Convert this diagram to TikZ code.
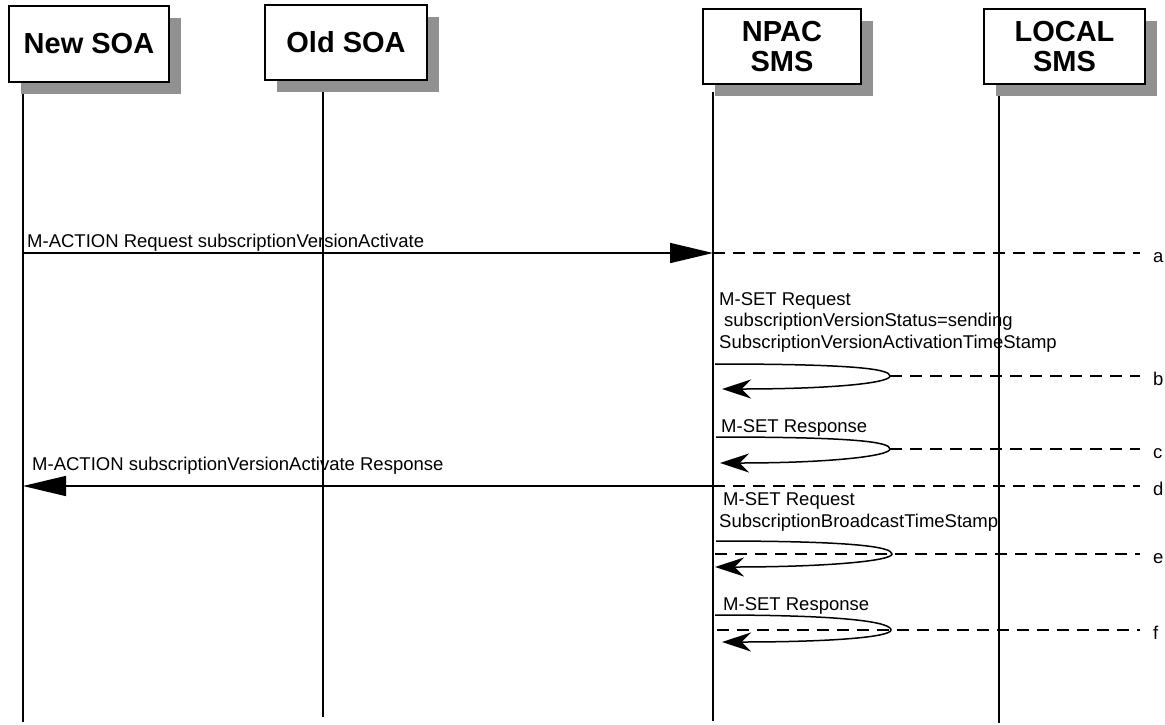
\documentclass[tikz,border=0pt]{standalone}
\usepackage{fontspec}
\setmainfont{Liberation Sans}
\usetikzlibrary{arrows.meta,shadows}
\definecolor{shadowgray}{RGB}{145,145,145}

\begin{document}
\begin{tikzpicture}[
    x=1pt, y=-1pt,
    actor/.style={draw, fill=white, line width=1.4pt, align=center,
                  inner sep=0pt, minimum height=75pt,
                  font=\bfseries\fontsize{29}{30}\selectfont,
                  general shadow={fill=shadowgray, shadow xshift=12pt, shadow yshift=-12pt}},
    life/.style={line width=1.4pt},
    msg/.style={line width=1.6pt, -{Triangle[length=43pt, width=20pt]}},
    self/.style={line width=1.5pt, -{Stealth[length=29pt, width=19pt]}},
    guide/.style={line width=1.2pt, dash pattern=on 12pt off 8pt},
    txt/.style={font=\fontsize{18.5}{21.5}\selectfont, inner sep=0pt,
                anchor=base west, align=left},
    tag/.style={txt}
  ]
  \useasboundingbox (0,0) rectangle (1165,724);

  % lifelines
  \foreach \a/\x/\t/\b in {newsoa/23/90/722, oldsoa/323/88/717, npac/713/92/721, local/999/92/723} {
    \coordinate (\a-top) at (\x,\t);
    \coordinate (\a-bot) at (\x,\b);
    \draw[life] (\a-top) -- (\a-bot);
  }

  % header row
  \node[actor, minimum width=160pt, minimum height=76pt] (newsoa) at (89,44) {New SOA};
  \node[actor, minimum width=162pt] (oldsoa) at (346,42.5) {Old SOA};
  \node[actor, minimum width=158pt] (npac) at (782,46.5) {NPAC\\SMS};
  \node[actor, minimum width=161pt] (local) at (1064.5,46.5) {LOCAL\\SMS};

  % dashed guides with their letters
  \foreach \n/\xs/\y in {a/713/253, b/890/376, c/890/449, d/713/486, e/715/554, f/717/630} {
    \coordinate (\n-gs) at (\xs,\y);
    \coordinate (\n-ge) at (1140,\y);
    \draw[guide] (\n-gs) -- (\n-ge);
    \node[tag] (\n-tag) at (1153,\y+9) {\n};
  }

  % a: activate request
  \coordinate (a-from) at (23,253);
  \coordinate (a-to) at (713,253);
  \draw[msg] (a-from) -- (a-to);
  \node[txt] (a-lbl) at (27,247) {M-ACTION Request subscriptionVersionActivate};

  % b: status set (base = last line)
  \node[txt] (b-lbl) at (719,348) {M-SET Request\\\hspace*{5pt}subscriptionVersionStatus=sending\\SubscriptionVersionActivationTimeStamp};
  \coordinate (b-start) at (715,364);
  \coordinate (b-tip) at (890,376);
  \coordinate (b-end) at (722,389);
  \draw[self] (b-start) .. controls +(140,0) and +(0,-7) .. (b-tip)
              .. controls +(0,7) and +(110,0) .. (b-end);

  % c: set response
  \node[txt] (c-lbl) at (721,432) {M-SET Response};
  \coordinate (c-start) at (716,437);
  \coordinate (c-tip) at (890,449);
  \coordinate (c-end) at (720,463);
  \draw[self] (c-start) .. controls +(140,0) and +(0,-7) .. (c-tip)
              .. controls +(0,7) and +(110,0) .. (c-end);

  % d: activate response
  \coordinate (d-from) at (713,486);
  \coordinate (d-to) at (23,486);
  \draw[msg] (d-from) -- (d-to);
  \node[txt] (d-lbl) at (32,470) {M-ACTION subscriptionVersionActivate Response};

  % e: broadcast time stamp
  \node[txt] (e-lbl) at (719,527) {\hspace*{4pt}M-SET Request\\SubscriptionBroadcastTimeStamp};
  \coordinate (e-start) at (716,541);
  \coordinate (e-tip) at (892,554);
  \coordinate (e-end) at (715,567);
  \draw[self] (e-start) .. controls +(140,0) and +(0,-7) .. (e-tip)
              .. controls +(0,7) and +(110,0) .. (e-end);

  % f: set response
  \node[txt] (f-lbl) at (723,610) {M-SET Response};
  \coordinate (f-start) at (715,615);
  \coordinate (f-tip) at (891,630);
  \coordinate (f-end) at (722,642);
  \draw[self] (f-start) .. controls +(140,0) and +(0,-7) .. (f-tip)
              .. controls +(0,7) and +(110,0) .. (f-end);
\end{tikzpicture}
\end{document}
